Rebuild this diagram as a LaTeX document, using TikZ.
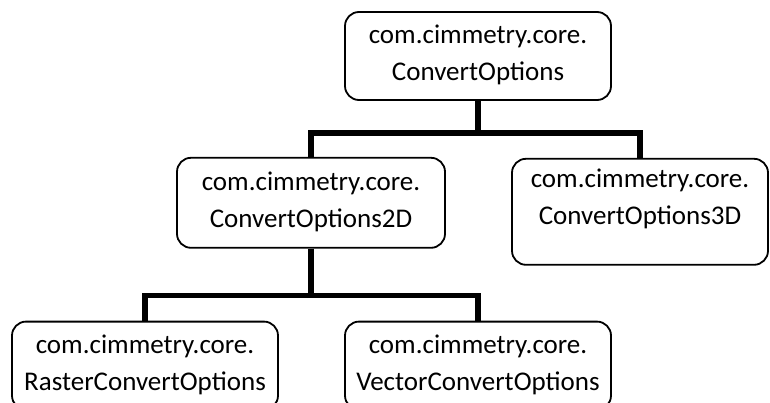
\documentclass[tikz,border=0pt]{standalone}
\usepackage{fontspec}
\setmainfont{Carlito}
\usetikzlibrary{positioning}

\begin{document}
\begin{tikzpicture}[x=1pt, y=1pt,
    every node/.style={font=\fontsize{27}{37}\selectfont},
    cls/.style={rectangle, rounded corners=14pt, draw=black, line width=1.8pt, fill=white, align=center, minimum width=266pt, minimum height=88pt, inner sep=0pt, text height=56pt, text depth=7pt},
    link/.style={draw=black, line width=5.5pt}
]
\clip (0,0) rectangle (770,402);

% Class boxes (tree layout)
\node[cls] (opts) at (478,346) {com.cimmetry.core.\\ConvertOptions};
\node[cls, minimum width=268pt, minimum height=90pt, below=56pt of opts, xshift=-167pt] (opts2d) {com.cimmetry.core.\\ConvertOptions2D};
\node[cls, minimum width=256pt, minimum height=106pt, text depth=30pt, below=57pt of opts, xshift=162pt] (opts3d) {com.cimmetry.core.\\ConvertOptions3D};
\node[cls, below=72pt of opts2d, xshift=-166pt] (raster) {com.cimmetry.core.\\RasterConvertOptions};
\node[cls, below=72pt of opts2d, xshift=167pt] (vector) {com.cimmetry.core.\\VectorConvertOptions};

% Inheritance connectors
\draw[link] (opts.south) -- ++(0,-32) -| (opts2d.north);
\draw[link] (opts.south) -- ++(0,-32) -| (opts3d.north);
\draw[link] (opts2d.south) -- ++(0,-47) -| (raster.north);
\draw[link] (opts2d.south) -- ++(0,-47) -| (vector.north);
\end{tikzpicture}
\end{document}
